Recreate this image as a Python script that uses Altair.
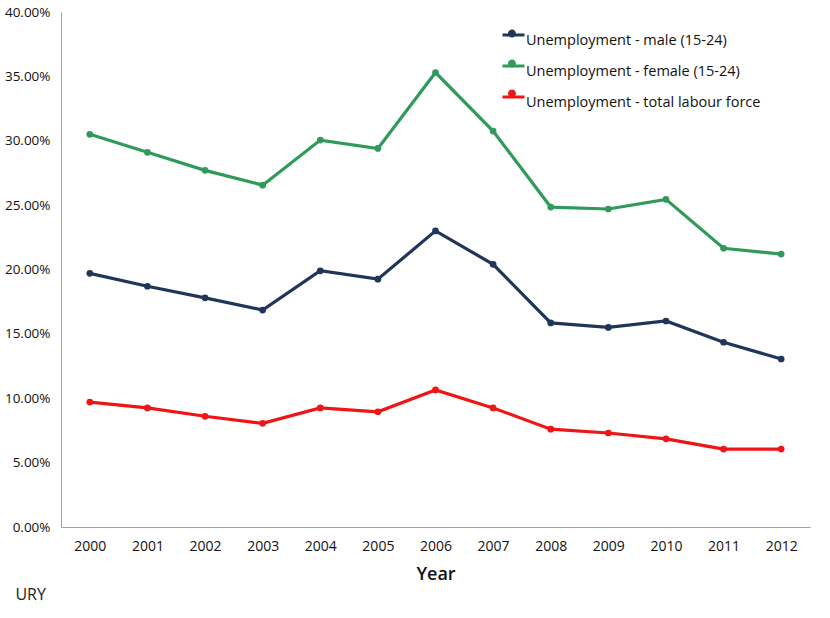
import altair as alt
import pandas as pd

years = [str(y) for y in range(2000, 2013)]
male = [19.7, 18.7, 17.8, 16.85, 19.9, 19.25, 23.0, 20.4, 15.85, 15.5, 16.0, 14.35, 13.05]
female = [30.5, 29.1, 27.7, 26.55, 30.05, 29.4, 35.3, 30.75, 24.85, 24.7, 25.45, 21.65, 21.2]
total = [9.7, 9.25, 8.6, 8.05, 9.25, 8.95, 10.65, 9.25, 7.6, 7.3, 6.85, 6.05, 6.05]

series = [
    "Unemployment - male (15-24)",
    "Unemployment - female (15-24)",
    "Unemployment - total labour force",
]
colors = ["#1f3658", "#2f9a5a", "#f01414"]

rows = []
for name, vals in zip(series, [male, female, total]):
    for y, v in zip(years, vals):
        rows.append({"Year": y, "series": name, "value": v / 100})
df = pd.DataFrame(rows)

FONT = "Open Sans"

x = alt.X(
    "Year:O",
    scale=alt.Scale(type="point", padding=0.5),
    axis=alt.Axis(
        title="Year", labelAngle=0, ticks=False, grid=False,
        domainColor="#a0a0a0", labelFontSize=14, labelColor="#111111",
        labelPadding=12, titleFontSize=18, titleFontWeight=600,
        titleColor="#111111", titlePadding=12, labelFont=FONT, titleFont=FONT,
    ),
)
y = alt.Y(
    "value:Q",
    scale=alt.Scale(domain=[0, 0.4]),
    axis=alt.Axis(
        title=None, format=".2%", values=[0, 0.05, 0.1, 0.15, 0.2, 0.25, 0.3, 0.35, 0.4],
        ticks=False, grid=False, domainColor="#a0a0a0", labelFontSize=13.5,
        labelColor="#111111", labelPadding=11, labelFont=FONT,
    ),
)

cscale = alt.Scale(domain=series, range=colors)

common = dict(
    title=None, orient="none", legendX=440, legendY=16,
    symbolSize=484, labelFontSize=14.5, labelFont=FONT,
    labelOffset=0, rowPadding=12, padding=0, labelLimit=400,
)
line_leg = alt.Legend(
    symbolType="M-1,-0.5L1,-0.5", symbolStrokeWidth=3, labelColor="#111111",
    **common
)
dot_leg = alt.Legend(
    symbolType="M-0.36,-0.5A0.36,0.36,0,1,1,0.36,-0.5A0.36,0.36,0,1,1,-0.36,-0.5Z",
    symbolStrokeWidth=0, labelExpr="''", **common
)

lines = alt.Chart(df).mark_line(strokeWidth=3.2).encode(
    x=x, y=y,
    color=alt.Color("series:N", scale=cscale, legend=line_leg, sort=series),
)

points = alt.Chart(df).mark_point(filled=True, size=45, opacity=1).encode(
    x=x, y=y,
    fill=alt.Fill("series:N", scale=cscale, legend=dot_leg, sort=series),
)

chart = alt.layer(lines, points).resolve_scale(color="independent").properties(
    width=749, height=515,
    autosize=alt.AutoSizeParams(type="none"),
    padding={"left": 61, "top": 12, "right": 20, "bottom": 91},
    title=alt.TitleParams(
        "URY", orient="bottom", anchor="start", frame="bounds",
        fontSize=16, font=FONT, fontWeight="normal", color="#222222",
        offset=4, dx=11,
    ),
).configure(background="#ffffff").configure_view(stroke=None)

chart.save("out.html", embed_options={"renderer": "svg", "actions": False})
